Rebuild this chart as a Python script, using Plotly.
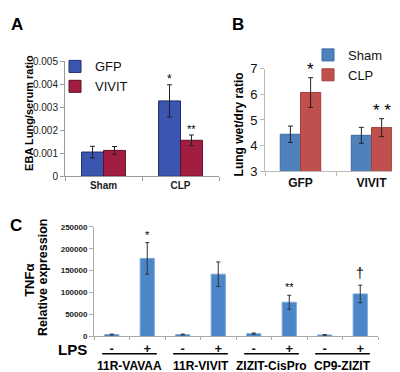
import plotly.graph_objects as go

# ---------------- data ----------------
# Panel A
a_categories = ["Sham", "CLP"]
a_gfp = [0.00105, 0.00327]
a_gfp_err = [0.00025, 0.0007]
a_vivit = [0.00112, 0.00156]
a_vivit_err = [0.00017, 0.00023]
a_ticks = [0, 0.001, 0.002, 0.003, 0.004, 0.005]
a_tick_labels = ["0", "0.001", "0.002", "0.003", "0.004", "0.005"]

# Panel B
b_categories = ["GFP", "VIVIT"]
b_sham = [4.44, 4.40]
b_sham_err = [0.32, 0.31]
b_clp = [6.07, 4.70]
b_clp_err = [0.58, 0.35]
b_ticks = [3, 4, 5, 6, 7]

# Panel C
c_groups = ["11R-VAVAA", "11R-VIVIT", "ZIZIT-CisPro", "CP9-ZIZIT"]
c_lps = ["-", "+"]
c_categories = [g + " " + s for g in c_groups for s in c_lps]
c_labels = [s for g in c_groups for s in c_lps]
c_values = [4500, 178000, 4500, 142000, 6500, 78000, 3500, 97000]
c_err = [1000, 36000, 1000, 28000, 1500, 16000, 800, 20000]
c_marks = ["", "*", "", "", "", "**", "", "†"]
c_ticks = [0, 50000, 100000, 150000, 200000, 250000]

W, H = 400, 372

def px_x(p):
    return p / W

def px_y(p):
    return 1 - p / H

fig = go.Figure()

err_style = dict(type="data", color="#222222", thickness=1, width=2.5)

# ---- Panel A ----
fig.add_bar(x=a_categories, y=a_gfp, name="GFP", xaxis="x", yaxis="y",
            error_y=dict(array=a_gfp_err, **err_style),
            marker=dict(color="#3A56B0", line=dict(color="#1E2E70", width=1)),
            legend="legend")
fig.add_bar(x=a_categories, y=a_vivit, name="VIVIT", xaxis="x", yaxis="y",
            error_y=dict(array=a_vivit_err, **err_style),
            marker=dict(color="#A11D42", line=dict(color="#5E1025", width=1)),
            legend="legend")

# ---- Panel B ----
fig.add_bar(x=b_categories, y=b_sham, name="Sham", xaxis="x2", yaxis="y2",
            error_y=dict(array=b_sham_err, **err_style),
            marker=dict(color="#4F81BD", line=dict(color="#3A6AA5", width=1)),
            legend="legend2")
fig.add_bar(x=b_categories, y=b_clp, name="CLP", xaxis="x2", yaxis="y2",
            error_y=dict(array=b_clp_err, **err_style),
            marker=dict(color="#C0504D", line=dict(color="#A33E3B", width=1)),
            legend="legend2")

# ---- Panel C ----
fig.add_bar(x=c_categories, y=c_values, name="TNFa", xaxis="x3", yaxis="y3",
            width=0.4, showlegend=False,
            error_y=dict(array=c_err, type="data", color="#333333", thickness=1, width=2),
            marker=dict(color="#4A86C8", line=dict(color="#7AA8DA", width=1)))

axis_gray = "#9A9A9A"
FONT = "Arial, Liberation Sans, sans-serif"

fig.update_layout(
    width=W, height=H,
    margin=dict(l=0, r=0, t=0, b=0),
    paper_bgcolor="white", plot_bgcolor="white",
    barmode="group", bargap=0.43, bargroupgap=0,
    font=dict(family=FONT, color="black"),
    xaxis=dict(domain=[px_x(57), px_x(211)], anchor="y", type="category",
               showline=True, linecolor=axis_gray, linewidth=1,
               ticks="outside", tickson="boundaries", ticklen=4, tickcolor=axis_gray,
               tickfont=dict(size=10, family=FONT, color="#222", weight="bold"),
               showgrid=False, zeroline=False),
    yaxis=dict(domain=[px_y(168), px_y(48)], anchor="x", range=[0, 0.005],
               tickvals=a_ticks, ticktext=a_tick_labels,
               showline=True, linecolor=axis_gray, linewidth=1,
               ticks="outside", ticklen=4, tickcolor=axis_gray,
               tickfont=dict(size=10, color="#222"),
               showgrid=False, zeroline=False),
    xaxis2=dict(domain=[px_x(257), px_x(399)], anchor="y2", type="category",
                showline=True, linecolor="#BBBBBB", linewidth=1,
                ticks="outside", tickson="boundaries", ticklen=4, tickcolor="#BBBBBB",
                tickfont=dict(size=12, family=FONT, color="#111", weight="bold"),
                showgrid=False, zeroline=False),
    yaxis2=dict(domain=[px_y(162.7), px_y(56)], anchor="x2", range=[3, 7],
                tickvals=b_ticks,
                showline=True, linecolor="#BBBBBB", linewidth=1,
                ticks="outside", ticklen=4, tickcolor="#BBBBBB",
                tickfont=dict(size=13, color="#111"),
                showgrid=False, zeroline=False),
    xaxis3=dict(domain=[px_x(86), px_x(370)], anchor="y3", type="category",
                categoryorder="array", categoryarray=c_categories,
                tickvals=c_categories, ticktext=c_labels,
                showline=True, linecolor="#AAAAAA", linewidth=1,
                ticks="outside", tickson="boundaries", ticklen=3, tickcolor="#AAAAAA",
                ticklabelstandoff=0,
                tickfont=dict(size=13, family=FONT, color="#111", weight="bold"),
                showgrid=False, zeroline=False),
    yaxis3=dict(domain=[px_y(335), px_y(220.7)], anchor="x3", range=[0, 250000],
                tickvals=c_ticks, tickformat="d",
                showline=True, linecolor="#AAAAAA", linewidth=1,
                ticks="outside", ticklen=4, tickcolor="#AAAAAA",
                tickfont=dict(size=8, family=FONT, color="#222", weight="bold"),
                showgrid=False, zeroline=False),
    legend=dict(x=px_x(47), y=px_y(38), xanchor="left", yanchor="top",
                bgcolor="rgba(0,0,0,0)", font=dict(size=13, color="#111"),
                itemwidth=30, tracegroupgap=0),
    legend2=dict(x=px_x(300), y=px_y(26), xanchor="left", yanchor="top",
                 bgcolor="rgba(0,0,0,0)", font=dict(size=13, color="#111"),
                 itemwidth=30, tracegroupgap=0),
    showlegend=True,
)

def note(text, x, y, size, angle=0, xref="paper", yref="paper", **kw):
    d = dict(text=text, x=x, y=y, xref=xref, yref=yref, showarrow=False,
             xanchor="center", yanchor="middle", textangle=angle,
             font=dict(size=size, family=FONT, color="black"))
    d.update(kw)
    return d

ann = []
# panel letters
for letter, x, y in [("A", 9, 10), ("B", 230, 10), ("C", 8, 219)]:
    ann.append(note("<b>" + letter + "</b>", px_x(x), px_y(y), 17))
# axis titles
ann.append(note("<b>EBA Lung/serum ratio</b>", px_x(21), px_y(102), 11, -90))
ann.append(note("<b>Lung wet/dry ratio</b>", px_x(231), px_y(114), 12, -90))
ann.append(note("<b>TNFα</b>", px_x(22), px_y(277), 13, -90))
ann.append(note("<b>Relative expression</b>", px_x(35), px_y(274), 12.5, -90))
# significance marks panel A
ann.append(note("*", "CLP", a_gfp[1] + a_gfp_err[1], 12, xref="x", yref="y", xshift=-11, yshift=6))
ann.append(note("**", "CLP", a_vivit[1] + a_vivit_err[1], 11, xref="x", yref="y", xshift=11, yshift=6))
# significance marks panel B
ann.append(note("*", "GFP", b_clp[0] + b_clp_err[0], 17, xref="x2", yref="y2", xshift=10, yshift=8))
ann.append(note("* *", "VIVIT", b_clp[1] + b_clp_err[1], 17, xref="x2", yref="y2", xshift=10, yshift=8))
# panel C marks
for cat, v, e, m in zip(c_categories, c_values, c_err, c_marks):
    if m:
        ann.append(note(m, cat, v + e, 11 if m != "†" else 14, xref="x3", yref="y3",
                        yshift=8 if m != "†" else 12))
# LPS label
ann.append(note("<b>LPS</b>", px_x(64), px_y(349), 15))
# group labels and underlines
shapes = []
for i, g in enumerate(c_groups):
    ann.append(note("<b>" + g + "</b>", 2 * i + 0.5, px_y(366), 12, xref="x3"))
    shapes.append(dict(type="line", xref="x3", yref="paper", x0=2 * i - 0.27, x1=2 * i + 1.27,
                       y0=px_y(353), y1=px_y(353), line=dict(color="black", width=1.3)))

fig.update_layout(annotations=ann, shapes=shapes)

fig.write_html("out.html")
